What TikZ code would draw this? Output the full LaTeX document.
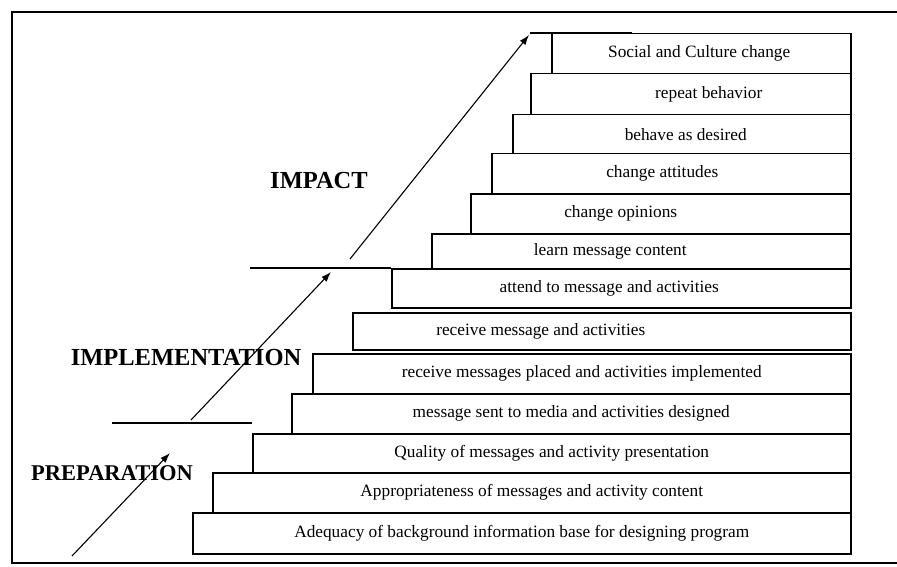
\documentclass[tikz,border=0pt]{standalone}
\usepackage{fontspec}
\setmainfont{Liberation Serif}
\usetikzlibrary{arrows.meta}

\tikzset{
  stepbox/.style={draw, line width=1.5pt, anchor=north west, inner sep=0pt, minimum height=40pt},
  stage/.style={font=\fontsize{24.5}{28}\selectfont\bfseries},
  rise/.style={line width=1.1pt, -{Latex[length=10pt,width=7pt]}},
}

\begin{document}
\begin{tikzpicture}[x=1pt, y=-1pt, font=\fontsize{17.3}{20}\selectfont]
        \useasboundingbox (0,0) rectangle (897,567);
        \draw[line width=1.8pt] (897,12) -- (12,12) -- (12,563) -- (897,563);

        % the steps, bottom to top
        \node (adequacy) [stepbox, minimum width=658pt, minimum height=41pt,
            label={center:Adequacy of background information base for designing program}] at (192,512) {};
        \node (approp) [stepbox, minimum width=638pt,
            label={center:Appropriateness of messages and activity content}] at (212,472) {};
        \node (quality) [stepbox, minimum width=598pt, minimum height=39pt,
            label={center:Quality of messages and activity presentation}] at (252,433) {};
        \node (sent) [stepbox, minimum width=559pt,
            label={center:message sent to media and activities designed}] at (291,393) {};
        \node (placed) [stepbox, minimum width=538pt,
            label={center:receive messages placed and activities implemented}] at (312,353) {};
        \node (receive) [stepbox, minimum width=498pt, minimum height=37pt,
            label={[xshift=-61pt]center:receive message and activities}] at (352,312) {};
        \node (attend) [stepbox, minimum width=459pt, minimum height=39pt,
            label={[xshift=-12pt]center:attend to message and activities}] at (391,268) {};
        \node (learn) [stepbox, minimum width=419pt, minimum height=35pt,
            label={[xshift=-31pt]center:learn message content}] at (431,233) {};
        \node (opinions) [stepbox, minimum width=380pt,
            label={[xshift=-40pt]center:change opinions}] at (470,193) {};
        \node (attitudes) [stepbox, minimum width=359pt,
            label={[xshift=-9pt]center:change attitudes}] at (491,153) {};
        \node (behave) [stepbox, minimum width=338pt, minimum height=39pt,
            label={[xshift=4pt]center:behave as desired}] at (512,114) {};
        \node (repeat) [stepbox, minimum width=320pt, minimum height=41pt,
            label={[xshift=18pt]center:repeat behavior}] at (530,73) {};
        \node (social) [stepbox, minimum width=299pt,
            label={[xshift=-2pt]center:Social and Culture change}] at (551,33) {};

        % stage lines and arrows
        \coordinate (prepline) at (112,423);
        \coordinate (implline) at (250,268);
        \coordinate (prepfoot) at (72,556);
        \coordinate (preptip) at (170,453);
        \coordinate (implfoot) at (191,420);
        \coordinate (impltip) at (331,272);
        \coordinate (impactfoot) at (350,259);
        \coordinate (impacttip) at (529,35);
        \coordinate (topend) at (530,33);

        \draw[line width=1.3pt] (prepline) -- (prepline -| quality.west);
        \draw[line width=1.3pt] (implline) -- (attend.north west);
        \draw[line width=1.3pt] (topend) -- (social.north west);
        \draw[line width=2.2pt] (social.north west) -- ++(81,0);

        \draw[rise] (prepfoot) -- (preptip);
        \draw[rise] (implfoot) -- (impltip);
        \draw[rise] (impactfoot) -- (impacttip);

        \node (impact) [stage] at (319,181) {IMPACT};
        \node (implementation) [stage] at (186,358) {IMPLEMENTATION};
        \node (preparation) [stage, font=\fontsize{22.5}{26}\selectfont\bfseries] at (112,473) {PREPARATION};
    \end{tikzpicture}
\end{document}
